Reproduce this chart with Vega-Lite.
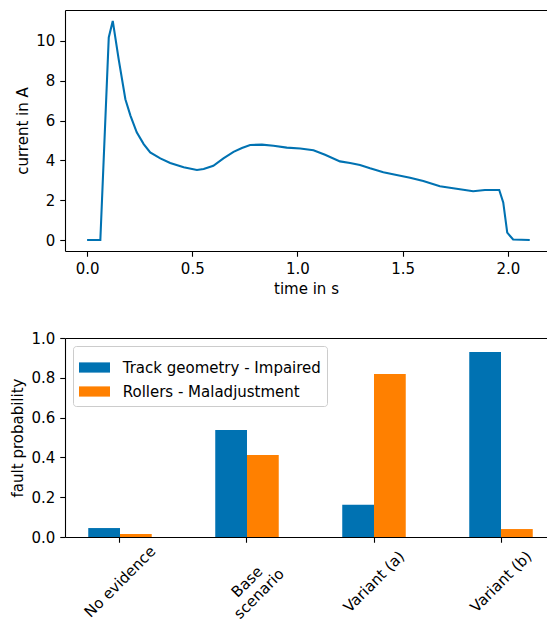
{
  "$schema": "https://vega.github.io/schema/vega-lite/v6.json",
  "padding": {"left": 10, "top": 10, "right": 0, "bottom": 0},
  "config": {
    "font": "DejaVu Sans",
    "view": {"stroke": null},
    "axis": {
      "domainColor": "black", "tickColor": "black", "labelColor": "black", "titleColor": "black",
      "labelFontSize": 15, "titleFontSize": 15, "titleFontWeight": "normal",
      "tickSize": 5.25, "labelPadding": 5, "grid": false, "domainWidth": 1.1, "tickWidth": 1.1,
      "titlePadding": 5
    }
  },
  "datasets": {
    "current": [
      {"t": 0, "I": 0}, {"t": 0.063, "I": 0}, {"t": 0.103, "I": 10.17}, {"t": 0.122, "I": 11.0},
      {"t": 0.150, "I": 9.08}, {"t": 0.182, "I": 7.07}, {"t": 0.206, "I": 6.25}, {"t": 0.236, "I": 5.41},
      {"t": 0.269, "I": 4.82}, {"t": 0.300, "I": 4.40}, {"t": 0.348, "I": 4.10}, {"t": 0.395, "I": 3.87},
      {"t": 0.459, "I": 3.65}, {"t": 0.522, "I": 3.52}, {"t": 0.554, "I": 3.57}, {"t": 0.600, "I": 3.73},
      {"t": 0.648, "I": 4.10}, {"t": 0.696, "I": 4.43}, {"t": 0.736, "I": 4.62}, {"t": 0.775, "I": 4.77},
      {"t": 0.831, "I": 4.79}, {"t": 0.886, "I": 4.73}, {"t": 0.949, "I": 4.64}, {"t": 1.013, "I": 4.60},
      {"t": 1.076, "I": 4.51}, {"t": 1.131, "I": 4.28}, {"t": 1.202, "I": 3.95}, {"t": 1.250, "I": 3.87},
      {"t": 1.297, "I": 3.77}, {"t": 1.345, "I": 3.60}, {"t": 1.408, "I": 3.40}, {"t": 1.471, "I": 3.27},
      {"t": 1.535, "I": 3.13}, {"t": 1.598, "I": 2.96}, {"t": 1.677, "I": 2.70}, {"t": 1.740, "I": 2.60},
      {"t": 1.796, "I": 2.51}, {"t": 1.835, "I": 2.45}, {"t": 1.891, "I": 2.51}, {"t": 1.959, "I": 2.51},
      {"t": 1.978, "I": 1.89}, {"t": 1.997, "I": 0.37}, {"t": 2.025, "I": 0.03}, {"t": 2.104, "I": 0}
    ],
    "faults": [
      {"scenario": "No evidence", "fault": "Track geometry - Impaired", "p": 0.045},
      {"scenario": "No evidence", "fault": "Rollers - Maladjustment", "p": 0.015},
      {"scenario": "Base scenario", "fault": "Track geometry - Impaired", "p": 0.538},
      {"scenario": "Base scenario", "fault": "Rollers - Maladjustment", "p": 0.412},
      {"scenario": "Variant (a)", "fault": "Track geometry - Impaired", "p": 0.162},
      {"scenario": "Variant (a)", "fault": "Rollers - Maladjustment", "p": 0.819},
      {"scenario": "Variant (b)", "fault": "Track geometry - Impaired", "p": 0.930},
      {"scenario": "Variant (b)", "fault": "Rollers - Maladjustment", "p": 0.040}
    ]
  },
  "bounds": "flush",
  "spacing": 87,
  "resolve": {"scale": {"color": "independent"}, "legend": {"color": "independent"}},
  "vconcat": [
    {
      "width": 482,
      "height": 241,
      "data": {"name": "current"},
      "resolve": {"axis": {"x": "independent"}},
      "encoding": {
        "y": {"field": "I", "type": "quantitative",
              "scale": {"domain": [-0.55, 11.55], "nice": false, "zero": false},
              "axis": {"values": [0, 2, 4, 6, 8, 10], "title": "current in A"}}
      },
      "layer": [
        {"mark": {"type": "line", "color": "#0072B2", "strokeWidth": 2.08},
         "encoding": {
           "x": {"field": "t", "type": "quantitative",
                 "scale": {"domain": [-0.105, 2.186], "nice": false, "zero": false},
                 "axis": {"orient": "bottom", "values": [0, 0.5, 1, 1.5, 2], "format": ".1f", "title": "time in s"}}
         }},
        {"mark": {"type": "line", "opacity": 0},
         "encoding": {
           "x": {"field": "t", "type": "quantitative",
                 "scale": {"domain": [-0.105, 2.186], "nice": false, "zero": false},
                 "axis": {"orient": "top", "labels": false, "ticks": false, "title": null}}
         }}
      ]
    },
    {
      "width": 482,
      "height": 199,
      "data": {"name": "faults"},
      "resolve": {"axis": {"x": "independent"}},
      "encoding": {
        "y": {"field": "p", "type": "quantitative",
              "scale": {"domain": [0, 1], "nice": false},
              "axis": {"values": [0, 0.2, 0.4, 0.6, 0.8, 1], "format": ".1f", "title": "fault probability"}}
      },
      "layer": [
        {"mark": {"type": "bar"},
         "encoding": {
           "x": {"field": "scenario", "type": "nominal",
                 "sort": ["No evidence", "Base scenario", "Variant (a)", "Variant (b)"],
                 "scale": {"paddingInner": 0.5, "paddingOuter": 0.1476, "align": 0.62},
                 "axis": {"orient": "bottom", "title": null, "labelAngle": -45, "labelAlign": "center", "labelBaseline": "middle",
                          "labelPadding": 39, "labelLineHeight": 17,
                          "labelExpr": "datum.label == 'Base scenario' ? ['Base', 'scenario'] : datum.label"}},
           "xOffset": {"field": "fault", "type": "nominal",
                       "sort": ["Track geometry - Impaired", "Rollers - Maladjustment"]},
           "color": {"field": "fault", "type": "nominal",
                     "scale": {"domain": ["Track geometry - Impaired", "Rollers - Maladjustment"],
                               "range": ["#0072B2", "#FF8000"]},
                     "legend": {"title": null, "orient": "top-left", "offset": 7.5, "padding": 6,
                                "strokeColor": "#cccccc", "cornerRadius": 3, "fillColor": "rgba(255,255,255,0.8)",
                                "labelFontSize": 15, "labelColor": "black", "labelOffset": 12.7, "labelLimit": 0,
                                "symbolType": "M-1,-0.33H1V0.33H-1Z", "symbolSize": 961,
                                "symbolStrokeWidth": 0, "symbolOpacity": 1, "rowPadding": 0}}
         }},
        {"mark": {"type": "bar", "opacity": 0},
         "encoding": {
           "x": {"field": "scenario", "type": "nominal",
                 "sort": ["No evidence", "Base scenario", "Variant (a)", "Variant (b)"],
                 "scale": {"paddingInner": 0.5, "paddingOuter": 0.1476, "align": 0.62},
                 "axis": {"orient": "top", "labels": false, "ticks": false, "title": null}}
         }}
      ]
    }
  ]
}
